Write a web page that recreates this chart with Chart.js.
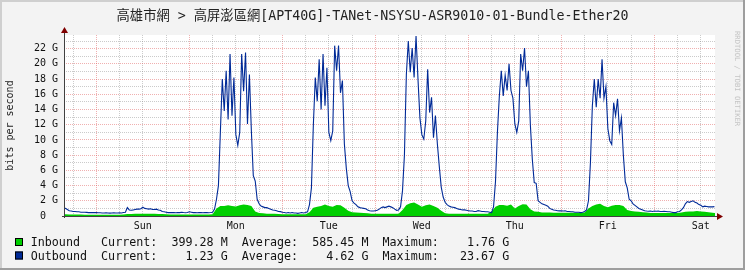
<!DOCTYPE html>
<html>
<head>
<meta charset="utf-8">
<title>Bundle-Ether20</title>
<style>
  html, body { margin: 0; padding: 0; background: #f3f3f3; }
  #wrap { position: relative; width: 745px; height: 270px; }
</style>
<script src="https://cdn.jsdelivr.net/npm/chart.js@4/dist/chart.umd.min.js"></script>
</head>
<body>
<div id="wrap"><canvas id="chart" width="745" height="270"></canvas></div>
<script>
  "use strict";

  const TITLE = "高雄市網 > 高屏澎區網[APT40G]-TANet-NSYSU-ASR9010-01-Bundle-Ether20";
  const Y_TITLE = "bits per second";
  const CREDIT = "RRDTOOL / TOBI OETIKER";

  // x axis is in hours, 0 = Sunday 00:00
  const X_MIN = -8.35;
  const X_MAX = 159.65;
  const dayNames = ["Sun", "Mon", "Tue", "Wed", "Thu", "Fri", "Sat"];
  const xGridHours = [-6, 0, 6, 12, 18, 24, 30, 36, 42, 48, 54, 60, 66, 72, 78, 84, 90, 96,
    102, 108, 114, 120, 126, 132, 138, 144, 150, 156];

  // y axis in Gbit/s
  const Y_MAX = 23.8;
  const yGridValues = [0, 1, 2, 3, 4, 5, 6, 7, 8, 9, 10, 11, 12, 13, 14, 15, 16, 17, 18, 19, 20, 21, 22, 23];
  const yLabelValues = [0, 2, 4, 6, 8, 10, 12, 14, 16, 18, 20, 22];
  const yLabelText = ["0  ", "2 G", "4 G", "6 G", "8 G", "10 G", "12 G", "14 G", "16 G", "18 G", "20 G", "22 G"];

  const seriesNames = ["Inbound", "Outbound"];
  const seriesColors = ["#00cf00", "#002a97"];
  const currentText = ["399.28 M", "1.23 G"];
  const averageText = ["585.45 M", "4.62 G"];
  const maximumText = ["1.76 G", "23.67 G"];

  // outbound, every 30 min from -8.5 h
  const OUT_START = -8.5;
  const OUT_STEP = 0.5;
  const outbound = [
    // Sat evening
    1.0, 1.0, 0.85, 0.7, 0.65, 0.6, 0.6, 0.55, 0.55, 0.5, 0.5, 0.5, 0.48, 0.45, 0.45, 0.45, 0.45,
    // Sun
    0.45, 0.42, 0.42, 0.4, 0.4, 0.42, 0.4, 0.38, 0.4, 0.42, 0.4, 0.4, 0.42, 0.4, 0.45, 0.5,
    1.1, 0.8, 0.75, 0.8, 0.85, 0.9, 0.9, 0.95, 1.15, 1.0, 0.95, 0.9, 0.95, 0.85, 0.85, 0.9,
    0.8, 0.75, 0.6, 0.55, 0.5, 0.45, 0.45, 0.45, 0.45, 0.42, 0.45, 0.45, 0.5, 0.45, 0.42, 0.45,
    // Mon
    0.55, 0.5, 0.45, 0.45, 0.42, 0.45, 0.45, 0.42, 0.45, 0.45, 0.42, 0.45,
    0.5, 0.9, 2.2, 4.0, 11.0, 18.0, 13.8, 19.1, 12.7, 21.3, 13.2, 18.2,
    10.7, 9.3, 11.0, 21.3, 16.4, 21.5, 12.1, 18.6, 11.2, 5.3, 4.6, 2.2,
    1.6, 1.3, 1.2, 1.1, 1.1, 1.0, 0.9, 0.8, 0.75, 0.7, 0.6, 0.57,
    // Tue
    0.5, 0.45, 0.4, 0.45, 0.4, 0.45, 0.4, 0.4, 0.35, 0.4, 0.45, 0.4,
    0.45, 0.55, 1.5, 3.7, 12.0, 18.2, 15.1, 20.6, 14.0, 21.3, 14.5, 19.5,
    11.0, 9.9, 11.2, 22.4, 19.1, 22.4, 16.2, 17.8, 9.5, 6.3, 4.0, 3.2,
    2.0, 1.7, 1.5, 1.2, 1.1, 1.05, 1.0, 0.95, 0.8, 0.7, 0.65, 0.65,
    // Wed
    0.7, 0.75, 0.9, 1.1, 1.2, 1.1, 1.2, 1.3, 1.2, 1.1, 0.9, 0.75,
    0.8, 1.2, 3.3, 8.0, 18.6, 23.0, 18.9, 22.1, 18.2, 23.67, 18.0, 12.9,
    10.7, 10.1, 12.5, 19.3, 13.6, 15.6, 10.3, 13.2, 9.5, 6.5, 3.8, 2.5,
    1.8, 1.5, 1.3, 1.2, 1.15, 1.1, 1.0, 0.9, 0.85, 0.8, 0.8, 0.75,
    // Thu
    0.7, 0.65, 0.65, 0.6, 0.6, 0.7, 0.65, 0.6, 0.6, 0.55, 0.55, 0.5,
    0.45, 1.2, 4.5, 11.0, 15.8, 19.1, 15.8, 18.5, 16.5, 20.0, 16.5, 15.5,
    12.1, 11.0, 12.5, 21.3, 19.1, 22.1, 17.0, 19.1, 12.0, 7.5, 4.4, 4.3,
    2.0, 1.8, 1.6, 1.5, 1.4, 1.3, 1.0, 0.9, 0.8, 0.75, 0.7, 0.68,
    // Fri
    0.68, 0.65, 0.68, 0.6, 0.6, 0.55, 0.55, 0.5, 0.5, 0.5, 0.45, 0.5,
    0.6, 0.8, 2.0, 7.0, 14.5, 18.0, 14.3, 18.0, 15.5, 20.6, 15.5, 17.0,
    11.5, 9.9, 9.4, 14.9, 13.2, 15.4, 11.2, 12.9, 8.0, 4.5, 3.7, 2.2,
    2.0, 1.6, 1.4, 1.2, 1.0, 0.9, 0.8, 0.7, 0.65, 0.62, 0.65, 0.6,
    // Sat
    0.65, 0.62, 0.65, 0.6, 0.6, 0.62, 0.6, 0.55, 0.55, 0.5, 0.45, 0.45,
    0.55, 0.6, 0.8, 1.1, 1.6, 1.9, 1.8, 1.9, 2.0, 1.8, 1.7, 1.5,
    1.4, 1.2, 1.3, 1.25, 1.2, 1.2, 1.2, 1.23
  ];

  // inbound, hourly from -9 h
  const IN_START = -9;
  const IN_STEP = 1;
  const inbound = [
    0.25, 0.22, 0.2, 0.2, 0.2, 0.2, 0.18, 0.18, 0.18,
    // Sun
    0.18, 0.18, 0.18, 0.18, 0.18, 0.18, 0.18, 0.2, 0.25, 0.25, 0.28, 0.3,
    0.3, 0.3, 0.28, 0.28, 0.25, 0.25, 0.22, 0.2, 0.2, 0.2, 0.2, 0.2,
    // Mon
    0.2, 0.2, 0.2, 0.2, 0.2, 0.2, 0.22, 1.0, 1.3, 1.3, 1.4, 1.3,
    1.25, 1.4, 1.5, 1.45, 1.3, 0.6, 0.4, 0.35, 0.3, 0.3, 0.28, 0.25,
    // Tue
    0.22, 0.22, 0.22, 0.22, 0.22, 0.22, 0.22, 0.5, 1.1, 1.2, 1.3, 1.5,
    1.3, 1.2, 1.45, 1.4, 1.1, 0.7, 0.5, 0.45, 0.42, 0.4, 0.35, 0.3,
    // Wed
    0.28, 0.28, 0.28, 0.28, 0.28, 0.28, 0.3, 0.8, 1.45, 1.67, 1.76, 1.5,
    1.2, 1.4, 1.5, 1.3, 1.1, 0.7, 0.35, 0.3, 0.3, 0.3, 0.28, 0.28,
    // Thu
    0.28, 0.28, 0.28, 0.28, 0.28, 0.28, 0.6, 1.2, 1.45, 1.45, 1.35, 1.5,
    1.0, 1.3, 1.55, 1.5, 0.9, 0.6, 0.55, 0.45, 0.45, 0.45, 0.44, 0.44,
    // Fri
    0.42, 0.42, 0.42, 0.42, 0.42, 0.42, 0.45, 1.0, 1.3, 1.5, 1.6, 1.3,
    1.15, 1.35, 1.45, 1.45, 1.3, 0.8, 0.65, 0.6, 0.55, 0.5, 0.45, 0.4,
    // Sat
    0.4, 0.4, 0.4, 0.4, 0.4, 0.4, 0.4, 0.45, 0.55, 0.6, 0.6, 0.65,
    0.6, 0.55, 0.5, 0.42, 0.4
  ];

  const MONO = "'DejaVu Sans Mono', monospace";
  const MAJOR_GRID = "rgba(222, 80, 80, 0.45)";
  const MINOR_GRID = "rgba(140, 140, 140, 0.45)";

  function toPoints(values, start, step) {
    return values.map((v, i) => ({ x: start + i * step, y: v }));
  }

  const decor = {
    id: "decor",
    beforeDraw(chart) {
      const { ctx, chartArea: a, width, height } = chart;
      ctx.save();
      ctx.fillStyle = "#f3f3f3";
      ctx.fillRect(0, 0, width, height);
      ctx.fillStyle = "#cfcfcf";
      ctx.fillRect(0, 0, width, 2);
      ctx.fillRect(0, 0, 2, height);
      ctx.fillStyle = "#9e9e9e";
      ctx.fillRect(0, height - 2, width, 2);
      ctx.fillRect(width - 2, 0, 2, height);
      ctx.fillStyle = "#ffffff";
      ctx.fillRect(a.left, a.top, a.right - a.left, a.bottom - a.top);
      ctx.restore();
    },
    afterDatasetsDraw(chart) {
      const { ctx, chartArea: a } = chart;
      const bx = Math.round(a.left) + 0.5;
      const by = Math.round(a.bottom) + 0.5;
      ctx.save();
      ctx.strokeStyle = "#404040";
      ctx.lineWidth = 1;
      ctx.beginPath();
      ctx.moveTo(a.left - 2, by);
      ctx.lineTo(a.right + 3, by);
      ctx.moveTo(bx, a.bottom + 2);
      ctx.lineTo(bx, a.top - 2);
      ctx.stroke();
      // arrows
      ctx.fillStyle = "#7f0000";
      ctx.beginPath();
      ctx.moveTo(a.right + 8, by);
      ctx.lineTo(a.right + 2, by - 3.5);
      ctx.lineTo(a.right + 2, by + 3.5);
      ctx.closePath();
      ctx.fill();
      ctx.beginPath();
      ctx.moveTo(bx, a.top - 8);
      ctx.lineTo(bx - 3.5, a.top - 2);
      ctx.lineTo(bx + 3.5, a.top - 2);
      ctx.closePath();
      ctx.fill();
      ctx.restore();
    },
    afterDraw(chart) {
      const { ctx, chartArea: a } = chart;
      ctx.save();
      ctx.fillStyle = "#222";

      ctx.font = "13.3px " + MONO + ", 'Noto Sans CJK TC'";
      ctx.textAlign = "center";
      ctx.textBaseline = "alphabetic";
      ctx.fillText(TITLE, 372.5, 19.5);

      ctx.save();
      ctx.font = "10px " + MONO;
      ctx.translate(10.5, (a.top + a.bottom) / 2);
      ctx.rotate(-Math.PI / 2);
      ctx.textBaseline = "middle";
      ctx.fillText(Y_TITLE, 0, 0);
      ctx.restore();

      ctx.save();
      ctx.fillStyle = "#c4c4c4";
      ctx.font = "7.2px " + MONO;
      ctx.translate(737, 31);
      ctx.rotate(Math.PI / 2);
      ctx.textAlign = "left";
      ctx.textBaseline = "middle";
      ctx.fillText(CREDIT, 0, 0);
      ctx.restore();

      ctx.font = "11.7px " + MONO;
      ctx.textAlign = "left";
      ctx.textBaseline = "alphabetic";
      seriesNames.forEach((name, i) => {
        const base = 246 + i * 13.5;
        ctx.fillStyle = seriesColors[i];
        ctx.fillRect(15, base - 8, 8, 8);
        ctx.strokeStyle = "#000";
        ctx.lineWidth = 1;
        ctx.strokeRect(15.5, base - 7.5, 7, 7);
        const line = name.padEnd(10) +
          "Current:" + currentText[i].padStart(10) +
          "  Average:" + averageText[i].padStart(10) +
          "  Maximum:" + maximumText[i].padStart(10);
        ctx.fillStyle = "#111";
        ctx.fillText(line, 30.7, base);
      });
      ctx.restore();
    }
  };

  new Chart(document.getElementById("chart"), {
    type: "line",
    data: {
      datasets: [
        {
          label: seriesNames[1],
          data: toPoints(outbound, OUT_START, OUT_STEP),
          borderColor: seriesColors[1],
          borderWidth: 1.1,
          pointRadius: 0,
          tension: 0,
          fill: false,
          order: 0
        },
        {
          label: seriesNames[0],
          data: toPoints(inbound, IN_START, IN_STEP),
          borderColor: seriesColors[0],
          backgroundColor: seriesColors[0],
          borderWidth: 0,
          pointRadius: 0,
          tension: 0,
          fill: "origin",
          order: 1
        }
      ]
    },
    options: {
      responsive: false,
      animation: false,
      devicePixelRatio: 1,
      layout: { padding: { top: 35, right: 30, left: 0, bottom: 0 } },
      plugins: {
        legend: { display: false },
        tooltip: { enabled: false },
        title: { display: false }
      },
      scales: {
        x: {
          type: "linear",
          min: X_MIN,
          max: X_MAX,
          afterFit: s => { s.height = 54; },
          afterBuildTicks: s => { s.ticks = xGridHours.map(v => ({ value: v })); },
          ticks: {
            autoSkip: false,
            maxRotation: 0,
            padding: 4,
            color: "#111",
            font: { family: MONO, size: 10 },
            callback: v => (((v % 24) + 24) % 24 === 12 ? dayNames[(v - 12) / 24] : "")
          },
          grid: {
            drawTicks: false,
            lineWidth: 1,
            color: c => (c.tick && c.tick.value % 24 === 0 ? MAJOR_GRID : MINOR_GRID)
          },
          border: { display: false, dash: [1, 1] }
        },
        y: {
          min: 0,
          max: Y_MAX,
          afterFit: s => { s.width = 64; },
          afterBuildTicks: s => { s.ticks = yGridValues.map(v => ({ value: v })); },
          ticks: {
            autoSkip: false,
            padding: 6,
            color: "#111",
            font: { family: MONO, size: 10 },
            callback: v => {
              const i = yLabelValues.indexOf(v);
              return i >= 0 ? yLabelText[i] : "";
            }
          },
          grid: {
            drawTicks: false,
            lineWidth: 1,
            color: c => {
              if (!c.tick || c.tick.value === 0) return "rgba(0,0,0,0)";
              return c.tick.value % 2 === 0 ? MAJOR_GRID : MINOR_GRID;
            }
          },
          border: { display: false, dash: [1, 1] }
        }
      }
    },
    plugins: [decor]
  });
</script>
</body>
</html>
